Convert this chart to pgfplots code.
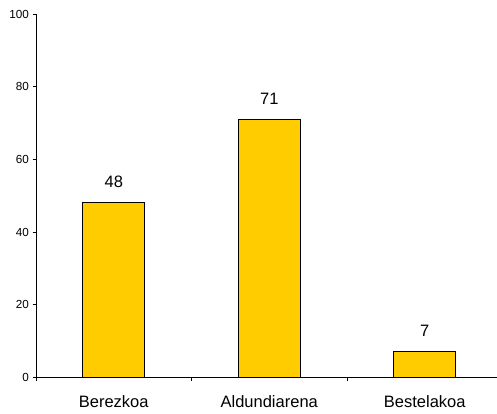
\documentclass[border=0pt]{standalone}
\usepackage{pgfplots}
\pgfplotsset{compat=1.18}
\usepackage{fontspec}
\setmainfont{Liberation Sans}
\definecolor{baryellow}{HTML}{FFCC00}
\begin{document}
\begin{tikzpicture}[x=1pt,y=1pt]
\path[use as bounding box] (0,0) rectangle (497,413);
\begin{axis}[
  at={(36pt,35.7pt)}, anchor=south west,
  scale only axis,
  width=461pt, height=363.3pt,
  xmin=-0.5, xmax=2.4646,
  ymin=0, ymax=100,
  axis lines=left,
  axis line style={-, black, line width=0.8pt},
  xtick={0,1,2},
  xticklabels={Berezkoa,Aldundiarena,Bestelakoa},
  minor xtick={-0.5,0.5,1.5,2.5},
  major x tick style={draw=none},
  ytick={0,20,40,60,80,100},
  tick align=outside,
  tick style={black, line width=0.8pt},
  major tick length=3.5pt,
  minor tick length=3.5pt,
  /pgf/number format/assume math mode=true,
  xticklabel style={font=\fontsize{16.5}{18}\selectfont, anchor=base, yshift=-27pt},
  yticklabel style={font=\fontsize{11.7}{13}\selectfont},
  ybar,
  bar width=62pt,
  nodes near coords,
  every node near coord/.append style={font=\fontsize{16.5}{18}\selectfont, anchor=base, yshift=15pt},
  clip=false,
]
\addplot[fill=baryellow, draw=black, line width=1pt] coordinates {(0,48) (1,71) (2,7)};
\end{axis}
\end{tikzpicture}
\end{document}
